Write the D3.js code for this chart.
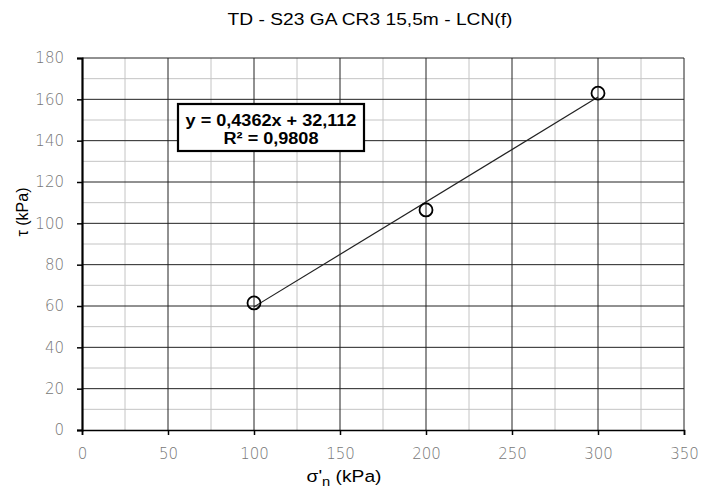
<!DOCTYPE html>
<html>
<head>
<meta charset="utf-8">
<script src="https://cdn.jsdelivr.net/npm/d3@7"></script>
<style>
  body { margin: 0; background: #fff; }
  text { font-family: "Liberation Sans", Arial, sans-serif; }
</style>
</head>
<body>
<div id="chart"></div>
<script>
// data
var sigma = [100, 200, 300];
var tau = [61.5, 106.5, 163];
var xTicks = [0, 50, 100, 150, 200, 250, 300, 350];
var yTicks = [0, 20, 40, 60, 80, 100, 120, 140, 160, 180];
var eqLines = ["y = 0,4362x + 32,112", "R\u00b2 = 0,9808"];
var title = "TD - S23 GA CR3 15,5m - LCN(f)";

var W = 703, H = 488;
var margin = {top: 58, right: 19, bottom: 58, left: 82};
var width = W - margin.left - margin.right;
var height = H - margin.top - margin.bottom;
var stretch = 1.13; // the original chart text is a bit wide

var svg = d3.select("#chart").append("svg")
    .attr("width", W).attr("height", H);

var g = svg.append("g")
    .attr("transform", "translate(" + margin.left + "," + margin.top + ")");

var x = d3.scaleLinear().domain([0, 350]).range([0, width]);
var y = d3.scaleLinear().domain([0, 180]).range([height, 0]);

// minor grid
g.selectAll(".minx").data(d3.range(25, 350, 50)).enter().append("line")
    .attr("x1", d => x(d)).attr("x2", d => x(d))
    .attr("y1", 0).attr("y2", height)
    .style("stroke", "#c4c4c4").style("stroke-width", 1);
g.selectAll(".miny").data(d3.range(10, 180, 20)).enter().append("line")
    .attr("y1", d => y(d)).attr("y2", d => y(d))
    .attr("x1", 0).attr("x2", width)
    .style("stroke", "#c4c4c4").style("stroke-width", 1);

// major grid
g.selectAll(".majx").data(xTicks.slice(1)).enter().append("line")
    .attr("x1", d => x(d)).attr("x2", d => x(d))
    .attr("y1", 0).attr("y2", height)
    .style("stroke", "#222").style("stroke-width", 1);
g.selectAll(".majy").data(yTicks.slice(1)).enter().append("line")
    .attr("y1", d => y(d)).attr("y2", d => y(d))
    .attr("x1", 0).attr("x2", width)
    .style("stroke", "#222").style("stroke-width", 1);

// axes
var xAxis = g.append("g")
    .attr("transform", "translate(0," + height + ")")
    .call(d3.axisBottom(x).tickValues(xTicks).tickSize(5).tickPadding(13));
var yAxis = g.append("g")
    .call(d3.axisLeft(y).tickValues(yTicks).tickSize(5).tickPadding(13));

[xAxis, yAxis].forEach(function(a) {
  a.select(".domain").style("stroke", "#000");
  a.selectAll(".tick line").style("stroke", "#000").style("stroke-width", 1.5);
  a.selectAll("text")
    .style("font-family", "'DejaVu Sans', sans-serif")
    .style("font-size", "15px")
    .style("font-weight", "200")
    .style("fill", "#777");
});
xAxis.select(".domain").style("stroke-width", 1.5);
yAxis.select(".domain").style("stroke-width", 2.2);

// least squares trend line through the points
var mx = d3.mean(sigma), my = d3.mean(tau);
var slope = d3.sum(sigma, (s, i) => (s - mx) * (tau[i] - my)) /
            d3.sum(sigma, s => (s - mx) * (s - mx));
var icpt = my - slope * mx;
g.append("line")
    .attr("x1", x(d3.min(sigma))).attr("y1", y(icpt + slope * d3.min(sigma)))
    .attr("x2", x(d3.max(sigma))).attr("y2", y(icpt + slope * d3.max(sigma)))
    .style("stroke", "#222").style("stroke-width", 1.2);

// points
g.selectAll(".pt").data(sigma).enter().append("circle")
    .attr("cx", d => x(d)).attr("cy", (d, i) => y(tau[i]))
    .attr("r", 6.5)
    .style("fill", "none").style("stroke", "#000").style("stroke-width", 1.8);

// equation box
var box = svg.append("g");
box.append("rect")
    .attr("x", 178).attr("y", 104).attr("width", 186).attr("height", 47)
    .style("fill", "#fff").style("stroke", "#000").style("stroke-width", 2.2);
box.selectAll("text").data(eqLines).enter().append("text")
    .attr("transform", (d, i) => "translate(271," + (126 + i * 18) + ") scale(" + stretch + ",1)")
    .attr("text-anchor", "middle")
    .style("font-size", "16px").style("font-weight", "bold")
    .text(d => d);

// title
svg.append("text")
    .attr("transform", "translate(370,25) scale(" + stretch + ",1)")
    .attr("text-anchor", "middle")
    .style("font-size", "17px")
    .text(title);

// axis titles
svg.append("text")
    .attr("transform", "translate(28,212) rotate(-90)")
    .attr("text-anchor", "middle")
    .style("font-size", "16px")
    .text("\u03c4 (kPa)");

var xl = svg.append("text")
    .attr("transform", "translate(344,482) scale(" + stretch + ",1)")
    .attr("text-anchor", "middle")
    .style("font-size", "17px");
xl.append("tspan").text("\u03c3'");
xl.append("tspan").attr("dy", 4).style("font-size", "13px").text("n");
xl.append("tspan").attr("dy", -4).text(" (kPa)");
</script>
</body>
</html>
